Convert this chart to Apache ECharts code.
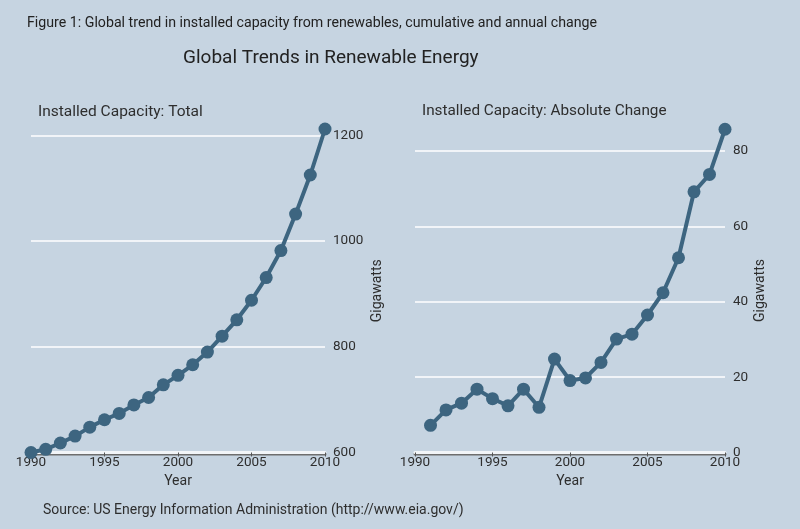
<!DOCTYPE html>
<html>
<head>
<meta charset="utf-8">
<script src="https://cdn.jsdelivr.net/npm/echarts@6/dist/echarts.min.js"></script>
<style>html,body{margin:0;padding:0;background:#c6d4e1;}#c{width:800px;height:529px;}</style>
</head>
<body>
<div id="c"></div>
<script>
var years = [1990,1991,1992,1993,1994,1995,1996,1997,1998,1999,2000,2001,2002,2003,2004,2005,2006,2007,2008,2009,2010];
var totalCapacity = [600,606,618,631,648,662,674,690,704,728,746,766,790,820,851,888,931,982,1051,1125,1212];
var changeYears = [1991,1992,1993,1994,1995,1996,1997,1998,1999,2000,2001,2002,2003,2004,2005,2006,2007,2008,2009,2010];
var absoluteChange = [7.2,11.3,13.1,16.8,14.3,12.4,16.8,12.0,24.8,19.1,19.8,23.9,30.1,31.4,36.5,42.4,51.7,69.2,73.8,85.8];

var FONT = 'Roboto, "Noto Sans", sans-serif';
var TXT = '#2e2e2e';
var LINE = '#3d6580';

function pairs(xs, ys){ return xs.map(function(x,i){ return [x, ys[i]]; }); }

function xAxisCfg(idx){
  return {
    type:'value', gridIndex: idx, min:1990, max:2010, interval:5,
    name:'Year', nameLocation:'middle', nameGap:18,
    nameTextStyle:{color:TXT, fontFamily:FONT, fontSize:14},
    axisLine:{show:true, lineStyle:{color:'#f2f5f8', width:3, shadowColor:'#6e6e6e', shadowOffsetY:1.5, shadowBlur:0}},
    axisTick:{show:true, length:4, lineStyle:{color:'#555', width:1}},
    axisLabel:{color:TXT, fontFamily:FONT, fontSize:13.5, margin:3, formatter:function(v){return String(v);}},
    splitLine:{show:false}
  };
}
function yAxisCfg(idx, min, max, interval, gap){
  return {
    type:'value', gridIndex: idx, position:'right', min:min, max:max, interval:interval,
    name:'Gigawatts', nameLocation:'middle', nameGap:gap, nameRotate:90,
    nameTextStyle:{color:TXT, fontFamily:FONT, fontSize:14},
    axisLine:{show:false}, axisTick:{show:false},
    axisLabel:{color:TXT, fontFamily:FONT, fontSize:13.5, margin:8, showMaxLabel:false, formatter:function(v){return String(v);}},
    splitLine:{show:true, showMinLine:false, showMaxLine:false, lineStyle:{color:'#ffffff', width:1.5}}
  };
}
function seriesCfg(idx, data){
  return {
    type:'line', xAxisIndex:idx, yAxisIndex:idx, data:data,
    symbol:'circle', symbolSize:13, showSymbol:true,
    lineStyle:{color:LINE, width:4}, itemStyle:{color:LINE},
    animation:false, clip:false, silent:true
  };
}

var chart = echarts.init(document.getElementById('c'), null, {renderer:'canvas'});
chart.setOption({
  backgroundColor:'#c6d4e1',
  animation:false,
  title:[
    {text:'Figure 1: Global trend in installed capacity from renewables, cumulative and annual change', left:27, top:16, padding:0,
     textStyle:{color:'#222', fontFamily:FONT, fontSize:14.2, fontWeight:'normal'}},
    {text:'Global Trends in Renewable Energy', left:183, top:49, padding:0,
     textStyle:{color:'#222', fontFamily:FONT, fontSize:19, fontWeight:'normal'}},
    {text:'Installed Capacity: Total', left:38, top:104, padding:0,
     textStyle:{color:TXT, fontFamily:FONT, fontSize:15.5, fontWeight:'normal'}},
    {text:'Installed Capacity: Absolute Change', left:422, top:104, padding:0,
     textStyle:{color:TXT, fontFamily:FONT, fontSize:15.3, fontWeight:'normal'}},
    {text:'Source: US Energy Information Administration (http://www.eia.gov/)', left:43, top:503, padding:0,
     textStyle:{color:TXT, fontFamily:FONT, fontSize:14, fontWeight:'normal'}}
  ],
  grid:[
    {left:31, width:294, top:129, bottom:76.5},
    {left:415, width:310, top:128.5, bottom:76.5}
  ],
  xAxis:[xAxisCfg(0), xAxisCfg(1)],
  yAxis:[yAxisCfg(0, 600, 1212, 200, 45), yAxisCfg(1, 0, 86, 20, 28)],
  series:[seriesCfg(0, pairs(years, totalCapacity)), seriesCfg(1, pairs(changeYears, absoluteChange))]
});
</script>
</body>
</html>
